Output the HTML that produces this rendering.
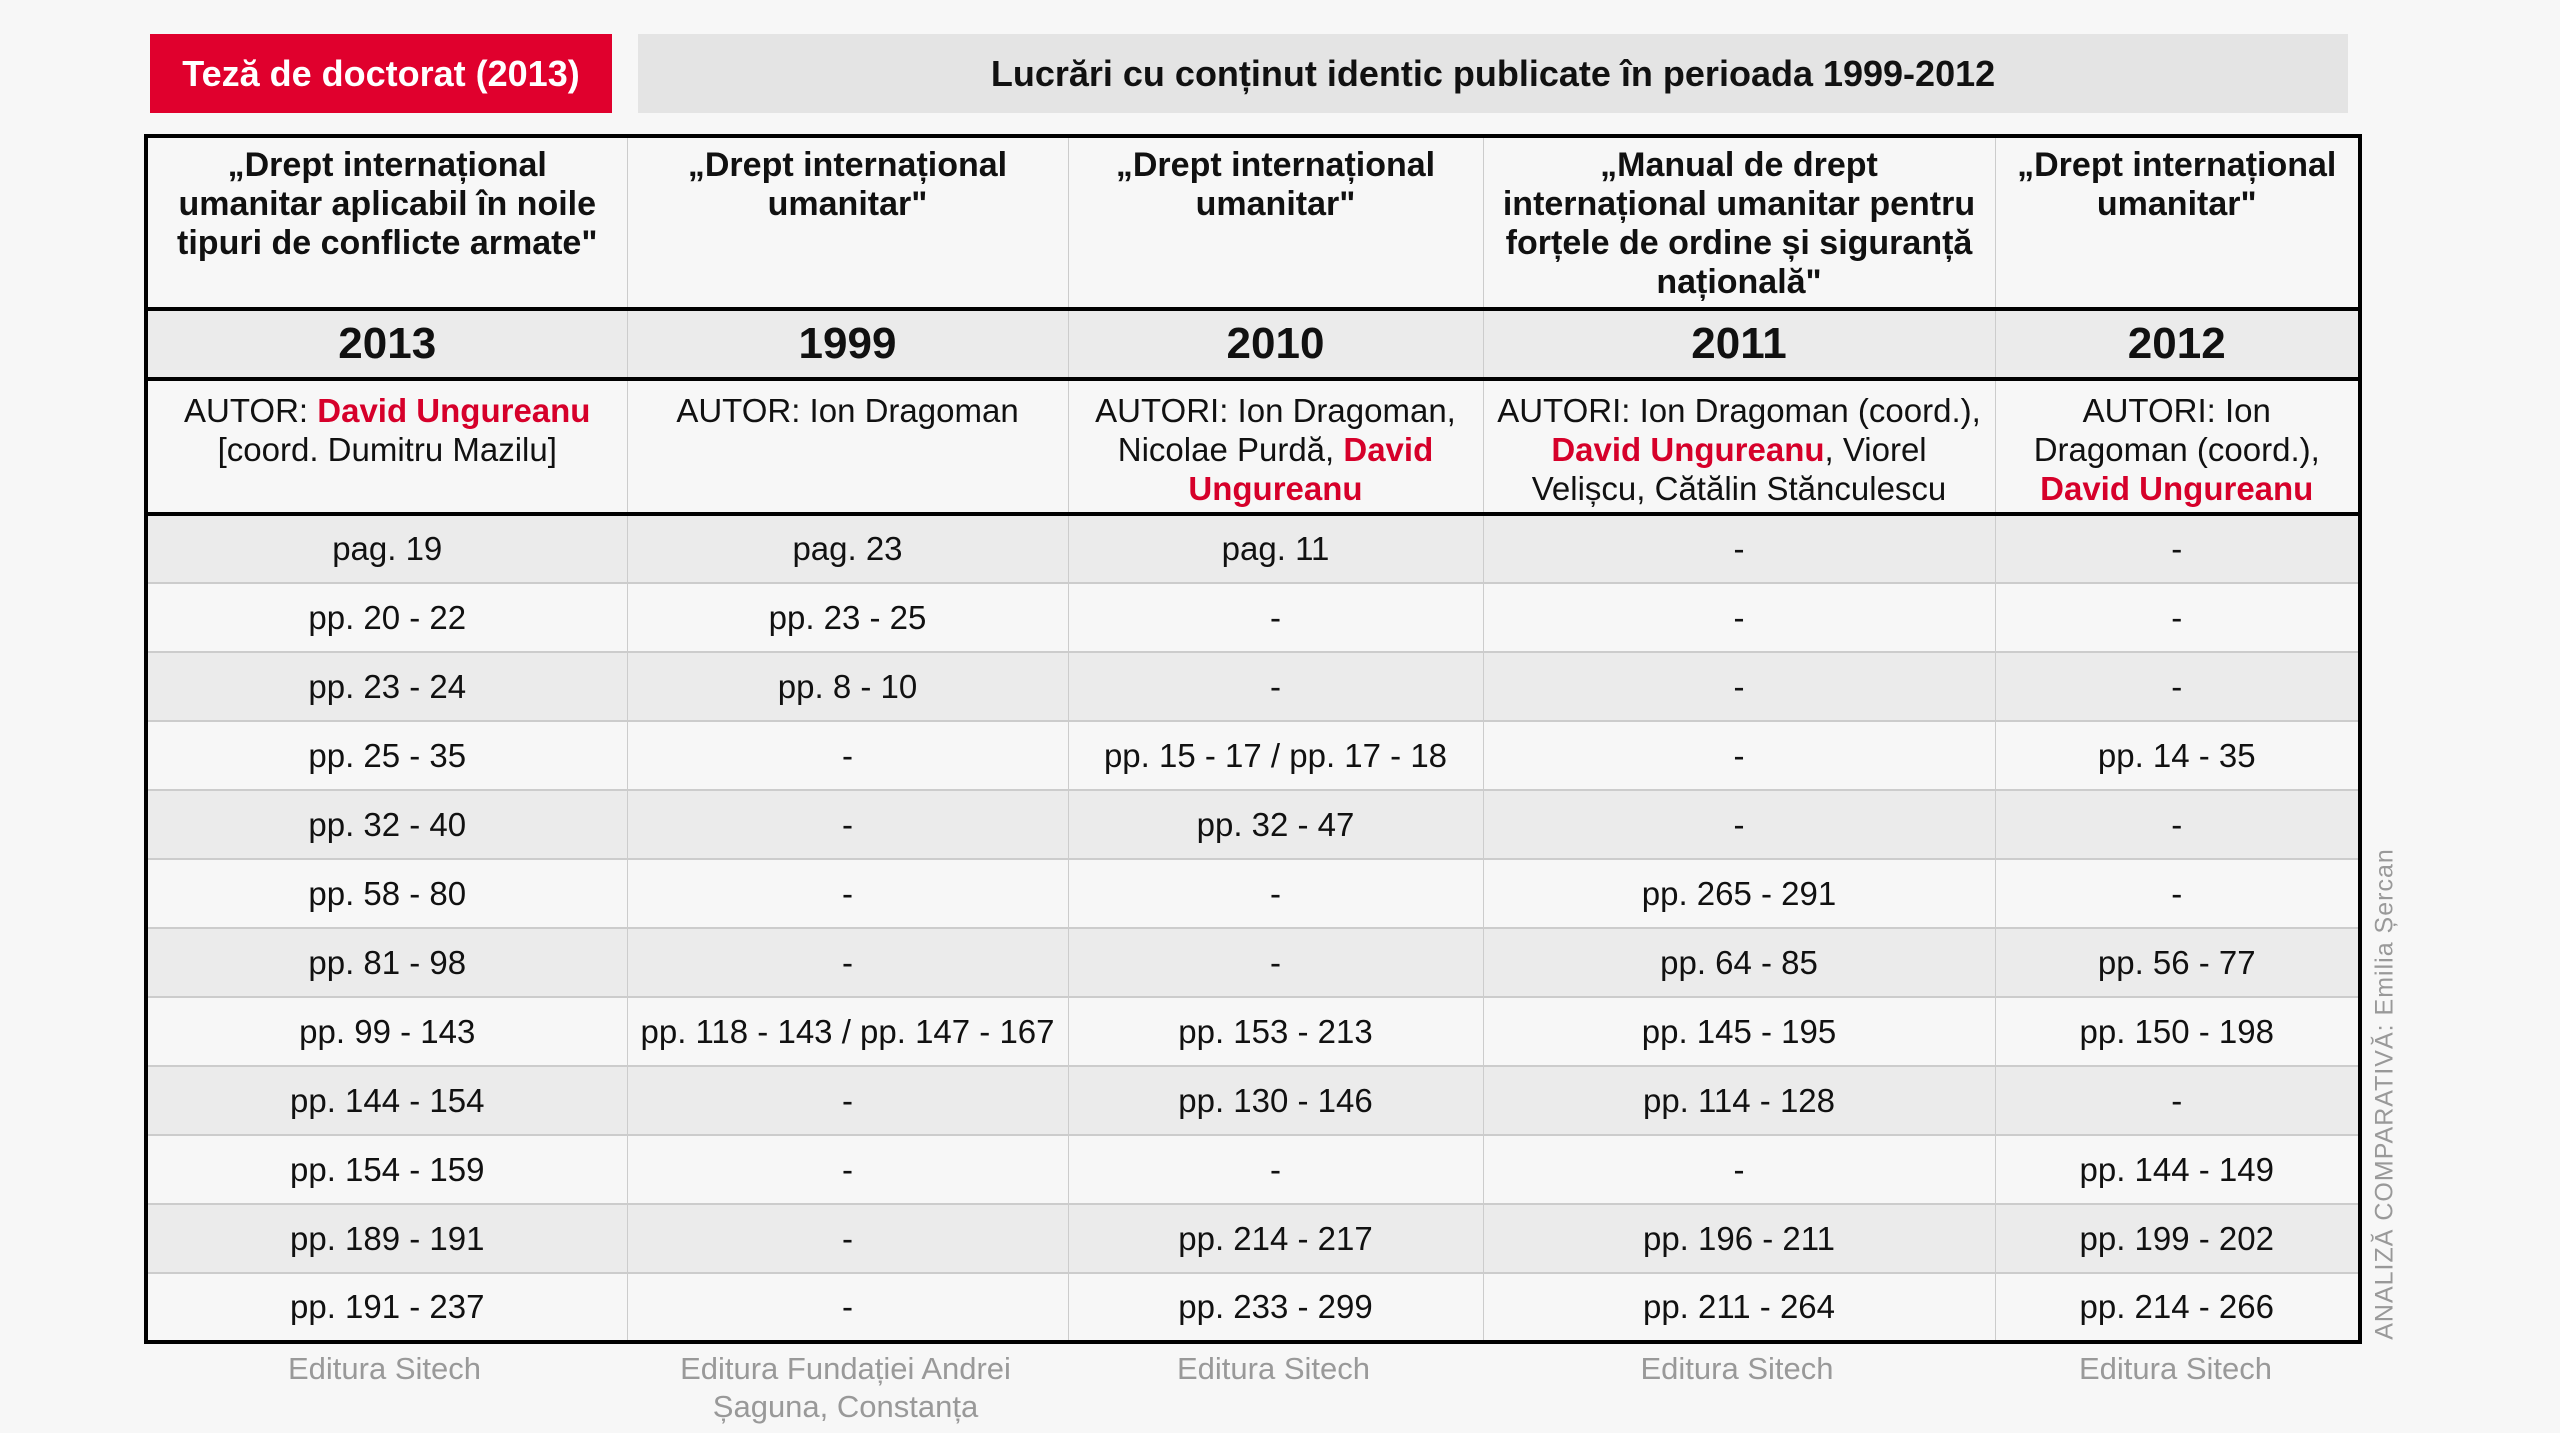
<!DOCTYPE html>
<html><head><meta charset="utf-8"><style>
body{margin:0;width:2560px;height:1433px;background:#f7f7f7;font-family:"Liberation Sans",sans-serif;position:relative;overflow:hidden}
.box{position:absolute;display:flex;align-items:center;justify-content:center;font-weight:bold;font-size:36px}
table{position:absolute;left:144px;top:134px;width:2214px;border-collapse:collapse;border:4px solid #000;table-layout:fixed}
td{border-left:1px solid #ccc;text-align:center;color:#111;font-size:33px;padding:0;box-sizing:border-box}
tr.d td{height:69px;border-top:2px solid #ccc}
tr.d:nth-child(even) td{background:#ebebeb}
.r{color:#d6002a;font-weight:bold}
.h td{height:173px;vertical-align:top;font-weight:bold;font-size:34px;line-height:39px;padding:8px 18px 0;border-bottom:4px solid #000}
.y td{height:70px;background:#ebebeb;font-weight:bold;font-size:44px;border-bottom:4px solid #000}
.a td{height:135px;vertical-align:top;line-height:39px;padding-top:10px;border-bottom:4px solid #000}
.f{position:absolute;top:1350px;color:#999;font-size:31px;text-align:center;line-height:38px}
</style></head><body>
<div class="box" style="left:150px;top:34px;width:462px;height:79px;background:#e0002d;color:#fff">Teză de doctorat (2013)</div>
<div class="box" style="left:638px;top:34px;width:1710px;height:79px;background:#e4e4e4;color:#111">Lucrări cu conținut identic publicate în perioada 1999-2012</div>
<table>
<colgroup><col style="width:481px"><col style="width:441px"><col style="width:415px"><col style="width:512px"><col style="width:365px"></colgroup>
<tr class="h"><td>„Drept internațional umanitar aplicabil în noile tipuri de conflicte armate"</td><td>„Drept internațional<br>umanitar"</td><td>„Drept internațional<br>umanitar"</td><td>„Manual de drept internațional umanitar pentru forțele de ordine și siguranță națională"</td><td>„Drept internațional<br>umanitar"</td></tr>
<tr class="y"><td>2013</td><td>1999</td><td>2010</td><td>2011</td><td>2012</td></tr>
<tr class="a"><td>AUTOR: <span class="r">David Ungureanu</span><br>[coord. Dumitru Mazilu]</td><td>AUTOR: Ion Dragoman</td><td>AUTORI: Ion Dragoman,<br>Nicolae Purdă, <span class="r">David<br>Ungureanu</span></td><td>AUTORI: Ion Dragoman (coord.),<br><span class="r">David Ungureanu</span>, Viorel<br>Velișcu, Cătălin Stănculescu</td><td>AUTORI: Ion<br>Dragoman (coord.),<br><span class="r">David Ungureanu</span></td></tr>
<tr class="d"><td>pag. 19</td><td>pag. 23</td><td>pag. 11</td><td>-</td><td>-</td></tr>
<tr class="d"><td>pp. 20 - 22</td><td>pp. 23 - 25</td><td>-</td><td>-</td><td>-</td></tr>
<tr class="d"><td>pp. 23 - 24</td><td>pp. 8 - 10</td><td>-</td><td>-</td><td>-</td></tr>
<tr class="d"><td>pp. 25 - 35</td><td>-</td><td>pp. 15 - 17 / pp. 17 - 18</td><td>-</td><td>pp. 14 - 35</td></tr>
<tr class="d"><td>pp. 32 - 40</td><td>-</td><td>pp. 32 - 47</td><td>-</td><td>-</td></tr>
<tr class="d"><td>pp. 58 - 80</td><td>-</td><td>-</td><td>pp. 265 - 291</td><td>-</td></tr>
<tr class="d"><td>pp. 81 - 98</td><td>-</td><td>-</td><td>pp. 64 - 85</td><td>pp. 56 - 77</td></tr>
<tr class="d"><td>pp. 99 - 143</td><td>pp. 118 - 143 / pp. 147 - 167</td><td>pp. 153 - 213</td><td>pp. 145 - 195</td><td>pp. 150 - 198</td></tr>
<tr class="d"><td>pp. 144 - 154</td><td>-</td><td>pp. 130 - 146</td><td>pp. 114 - 128</td><td>-</td></tr>
<tr class="d"><td>pp. 154 - 159</td><td>-</td><td>-</td><td>-</td><td>pp. 144 - 149</td></tr>
<tr class="d"><td>pp. 189 - 191</td><td>-</td><td>pp. 214 - 217</td><td>pp. 196 - 211</td><td>pp. 199 - 202</td></tr>
<tr class="d"><td>pp. 191 - 237</td><td>-</td><td>pp. 233 - 299</td><td>pp. 211 - 264</td><td>pp. 214 - 266</td></tr>
</table>
<div class="f" style="left:144px;width:481px">Editura Sitech</div>
<div class="f" style="left:625px;width:441px">Editura Fundației Andrei<br>Șaguna, Constanța</div>
<div class="f" style="left:1066px;width:415px">Editura Sitech</div>
<div class="f" style="left:1481px;width:512px">Editura Sitech</div>
<div class="f" style="left:1993px;width:365px">Editura Sitech</div>
<div style="position:absolute;left:2385px;top:1094px;transform:translate(-50%,-50%) rotate(-90deg);white-space:nowrap;color:#999;font-size:25px;letter-spacing:1px">ANALIZĂ COMPARATIVĂ: Emilia Șercan</div>
</body></html>
